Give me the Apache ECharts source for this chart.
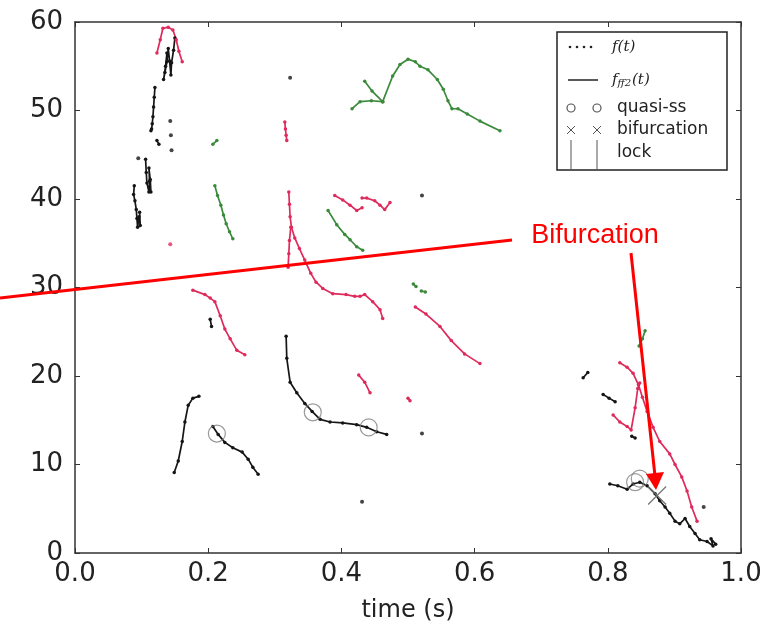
<!DOCTYPE html>
<html><head><meta charset="utf-8">
<script src="https://cdn.jsdelivr.net/npm/echarts@6/dist/echarts.min.js"></script>
<style>html,body{margin:0;padding:0;background:#fff}#c{width:780px;height:628px}</style>
</head><body><div id="c"></div>
<script>
// ---- data (time s, frequency) ----
const blackTopZigzag = [[0.150,58.2],[0.148,56.8],[0.145,55.4],[0.144,54.0],[0.142,55.6],[0.140,57.0],[0.138,55.5],[0.135,54.3],[0.133,53.5],[0.136,55.0],[0.138,56.5]];
const blackTopLine = [[0.120,52.6],[0.119,51.5],[0.118,50.4],[0.117,49.3],[0.116,48.5],[0.115,47.9],[0.114,47.7]];
const blackShortA = [[0.123,46.6],[0.126,46.2]];
const blackClusterC = [[0.106,44.5],[0.107,43.0],[0.108,41.8],[0.111,40.8],[0.112,42.0],[0.111,43.5],[0.113,42.2],[0.114,40.8]];
const blackClusterD = [[0.089,41.5],[0.088,40.5],[0.090,39.8],[0.092,38.8],[0.093,37.8],[0.094,36.8],[0.096,38.0],[0.098,37.0],[0.097,38.5]];
const blackSmallB = [[0.203,26.4],[0.205,25.6]];
const blackBig = [[0.317,24.5],[0.318,22.0],[0.323,19.3],[0.333,18.1],[0.345,16.9],[0.356,16.0],[0.368,15.1],[0.383,14.8],[0.402,14.7],[0.423,14.5],[0.438,14.2],[0.453,13.7],[0.468,13.4]];
const blackRise = [[0.149,9.1],[0.155,10.4],[0.161,12.6],[0.165,14.8],[0.170,16.7],[0.177,17.5],[0.186,17.7]];
const blackFall = [[0.207,14.3],[0.215,13.4],[0.225,12.5],[0.237,11.9],[0.251,11.4],[0.260,10.6],[0.267,9.7],[0.275,8.9]];
const blackSmallC = [[0.763,19.8],[0.770,20.4]];
const blackSmallD = [[0.793,17.9],[0.802,17.5],[0.811,17.1]];
const blackSmallE = [[0.836,13.2],[0.841,13.0]];
const blackEnd = [[0.803,7.8],[0.815,7.6],[0.829,7.2],[0.838,7.8],[0.848,8.0],[0.859,7.6],[0.871,6.7],[0.878,5.9],[0.886,5.2],[0.893,4.5],[0.901,3.6],[0.908,3.3],[0.916,3.9],[0.923,3.0],[0.931,2.2],[0.938,1.5],[0.949,1.3],[0.958,0.8],[0.955,1.6],[0.962,1.0]];
const blackDots = [[0.095,44.6],[0.143,48.8],[0.144,47.2],[0.145,45.5],[0.323,53.7],[0.521,40.4],[0.521,13.5],[0.431,5.8],[0.944,5.2]];

const redTop = [[0.123,56.5],[0.128,58.0],[0.132,59.3],[0.140,59.4],[0.147,59.1],[0.152,58.0],[0.156,56.7],[0.161,55.5]];
const redShortV = [[0.315,48.7],[0.316,47.9],[0.317,47.2],[0.318,46.6]];
const redBigMain = [[0.321,40.8],[0.322,39.4],[0.323,38.0],[0.325,36.8],[0.330,35.6],[0.337,34.4],[0.345,33.1],[0.354,31.6],[0.362,30.6],[0.372,29.9],[0.387,29.3],[0.407,29.2],[0.420,29.0],[0.428,29.0],[0.435,29.2],[0.447,28.4],[0.458,27.5],[0.462,26.5]];
const redBigBranch = [[0.320,32.3],[0.321,33.8],[0.322,35.3],[0.324,36.8]];
const redWaveA = [[0.390,40.4],[0.402,39.9],[0.413,39.3],[0.423,38.7],[0.431,39.0]];
const redWaveB = [[0.431,40.1],[0.438,40.1],[0.450,39.8],[0.458,39.3],[0.465,38.8],[0.473,39.6]];
const redLeft = [[0.177,29.7],[0.195,29.2],[0.203,28.8],[0.210,28.4],[0.218,26.8],[0.225,25.3],[0.233,24.2],[0.243,22.9],[0.255,22.4]];
const redMid = [[0.511,27.8],[0.527,27.0],[0.548,25.6],[0.565,24.0],[0.585,22.5],[0.608,21.4]];
const redSmall = [[0.426,20.1],[0.435,19.3],[0.443,18.1]];
const redTiny = [[0.500,17.5],[0.503,17.2]];
const redRightMain = [[0.818,21.5],[0.829,21.0],[0.838,20.3],[0.846,19.0],[0.852,17.6],[0.859,16.0],[0.868,14.2],[0.878,12.6],[0.893,11.2],[0.901,10.0],[0.911,8.6],[0.919,7.0],[0.926,5.2],[0.934,3.6]];
const redRightV = [[0.808,15.6],[0.818,14.8],[0.829,14.3],[0.835,13.9],[0.841,16.4],[0.845,18.6],[0.848,19.2]];
const redDots = [[0.143,34.9]];

const greenSmall = [[0.207,46.2],[0.213,46.6]];
const greenLeftLine = [[0.210,41.5],[0.214,40.4],[0.219,39.3],[0.223,38.2],[0.227,37.2],[0.232,36.3],[0.237,35.5]];
const greenSecond = [[0.380,38.7],[0.393,37.1],[0.405,36.0],[0.413,35.4],[0.423,34.6],[0.432,34.2]];
const greenVLeft = [[0.435,53.3],[0.446,52.2],[0.462,51.0]];
const greenLineA = [[0.416,50.2],[0.428,51.0],[0.445,51.1],[0.462,51.0]];
const greenHump = [[0.462,51.0],[0.477,53.9],[0.488,55.2],[0.500,55.8],[0.511,55.5],[0.518,55.0],[0.530,54.6],[0.544,53.5],[0.553,52.4],[0.560,51.1],[0.566,50.2],[0.575,50.2],[0.589,49.6],[0.608,48.8],[0.638,47.7]];
const greenDashA = [[0.508,30.4],[0.512,30.1]];
const greenDashB = [[0.520,29.6],[0.526,29.5]];
const greenRight = [[0.856,25.1],[0.852,24.2],[0.847,23.4]];

const quasiSS = [[0.213,13.5],[0.357,15.9],[0.441,14.2],[0.841,8.0],[0.848,8.4]];
const bifurcation = [[0.874,6.5]];

const xTickLabels = ['0.0','0.2','0.4','0.6','0.8','1.0'];
const yTickLabels = ['0','10','20','30','40','50','60'];

// ---- styles ----
const BLACK = '#151515', RED = '#df2a5c', GREEN = '#3b8a3b';
function seg(data, color) {
  return {type:'line', data, symbol:'circle', symbolSize:3.5, showSymbol:true,
    lineStyle:{width:1.7, color}, itemStyle:{color}, z:3, silent:true};
}
function dots(data, color) {
  return {type:'scatter', data, symbol:'circle', symbolSize:4, itemStyle:{color}, z:3, silent:true};
}
const series = [
  ...[blackTopZigzag,blackTopLine,blackShortA,blackClusterC,blackClusterD,blackSmallB,blackBig,blackRise,blackFall,blackSmallC,blackSmallD,blackSmallE,blackEnd].map(d=>seg(d,BLACK)),
  dots(blackDots, BLACK),
  ...[redTop,redShortV,redBigMain,redBigBranch,redWaveA,redWaveB,redLeft,redMid,redSmall,redTiny,redRightMain,redRightV].map(d=>seg(d,RED)),
  dots(redDots, RED),
  ...[greenSmall,greenLeftLine,greenSecond,greenVLeft,greenLineA,greenHump,greenDashA,greenDashB,greenRight].map(d=>seg(d,GREEN)),
  {type:'scatter', data:quasiSS, symbol:'circle', symbolSize:17,
    itemStyle:{color:'rgba(0,0,0,0)', borderColor:'#808080', borderWidth:1.2}, z:4, silent:true},
  {type:'custom', data:bifurcation, z:4, silent:true,
    renderItem:(params, api)=>{
      const p = api.coord([api.value(0), api.value(1)]);
      const s = 9;
      const st = {stroke:'#707070', lineWidth:1.2};
      return {type:'group', children:[
        {type:'line', shape:{x1:p[0]-s,y1:p[1]-s,x2:p[0]+s,y2:p[1]+s}, style:st},
        {type:'line', shape:{x1:p[0]-s,y1:p[1]+s,x2:p[0]+s,y2:p[1]-s}, style:st}
      ]};
    }}
];

const axisCommon = {
  axisLine:{show:true, onZero:false, lineStyle:{color:'#333', width:1.5}},
  axisTick:{show:true, inside:true, length:5, lineStyle:{color:'#333', width:1}},
  splitLine:{show:false}
};
const lblFont = {fontFamily:'DejaVu Sans', fontSize:26, color:'#222'};

const chart = echarts.init(document.getElementById('c'), null, {renderer:'canvas'});
chart.setOption({
  animation:false,
  backgroundColor:'#fff',
  grid:{left:75, top:22, right:39, bottom:68, containLabel:false},
  xAxis:[
    {type:'value', min:0, max:1, interval:0.2, position:'bottom', ...axisCommon,
      axisLabel:{...lblFont, margin:8, formatter:(v)=>xTickLabels[Math.round(v/0.2)]},
      name:'time (s)', nameLocation:'middle', nameGap:46,
      nameTextStyle:{fontFamily:'DejaVu Sans', fontSize:24, color:'#222'}},
    {type:'value', min:0, max:1, interval:0.2, position:'top', ...axisCommon, axisLabel:{show:false}}
  ],
  yAxis:[
    {type:'value', min:0, max:60, interval:10, position:'left', ...axisCommon,
      axisLabel:{...lblFont, margin:12, formatter:(v)=>yTickLabels[Math.round(v/10)]}},
    {type:'value', min:0, max:60, interval:10, position:'right', ...axisCommon, axisLabel:{show:false}}
  ],
  series,
  graphic:[
    // legend box
    {type:'rect', shape:{x:557,y:32,width:170,height:138}, style:{fill:'#fff', stroke:'#222', lineWidth:1.5}, z:10},
    ...[570,577,584,591].map(x=>({type:'circle', shape:{cx:x,cy:47,r:1.3}, style:{fill:'#222'}, z:11})),
    {type:'line', shape:{x1:568,y1:80,x2:598,y2:80}, style:{stroke:'#222', lineWidth:1.5}, z:11},
    {type:'circle', shape:{cx:571,cy:108,r:4}, style:{fill:'none', stroke:'#555', lineWidth:1.2}, z:11},
    {type:'circle', shape:{cx:597,cy:108,r:4}, style:{fill:'none', stroke:'#555', lineWidth:1.2}, z:11},
    ...[571,597].map(x=>({type:'group', z:11, children:[
      {type:'line', shape:{x1:x-4,y1:126,x2:x+4,y2:134}, style:{stroke:'#555', lineWidth:1}, z:11},
      {type:'line', shape:{x1:x-4,y1:134,x2:x+4,y2:126}, style:{stroke:'#555', lineWidth:1}, z:11}
    ]})),
    {type:'line', shape:{x1:571,y1:140,x2:571,y2:170}, style:{stroke:'#555', lineWidth:1}, z:11},
    {type:'line', shape:{x1:597,y1:140,x2:597,y2:170}, style:{stroke:'#555', lineWidth:1}, z:11},
    {type:'text', x:612, y:47, z:11, style:{text:'f(t)', fontFamily:'DejaVu Serif', fontStyle:'italic', fontSize:15, fill:'#222', verticalAlign:'middle'}},
    {type:'text', x:612, y:80, z:11, style:{text:'{a|f}{b|ff2}{a|(t)}', verticalAlign:'middle',
      rich:{a:{fontFamily:'DejaVu Serif', fontStyle:'italic', fontSize:15, fill:'#222'},
            b:{fontFamily:'DejaVu Serif', fontStyle:'italic', fontSize:10, fill:'#222', verticalAlign:'bottom', padding:[6,1,0,0]}}}},
    {type:'text', x:617, y:108, z:11, style:{text:'quasi-ss', fontFamily:'DejaVu Sans', fontSize:17, fill:'#222', verticalAlign:'middle'}},
    {type:'text', x:617, y:130, z:11, style:{text:'bifurcation', fontFamily:'DejaVu Sans', fontSize:17, fill:'#222', verticalAlign:'middle'}},
    {type:'text', x:617, y:153, z:11, style:{text:'lock', fontFamily:'DejaVu Sans', fontSize:17, fill:'#222', verticalAlign:'middle'}},
    // annotation
    {type:'line', shape:{x1:0,y1:298,x2:512,y2:240}, style:{stroke:'#ff0000', lineWidth:3}, z:20},
    {type:'text', x:595, y:236, z:20, style:{text:'Bifurcation', fontFamily:'Liberation Sans', fontSize:27, fill:'#ff0000', align:'center', verticalAlign:'middle'}},
    {type:'line', shape:{x1:631,y1:253,x2:655,y2:476}, style:{stroke:'#ff0000', lineWidth:3}, z:20},
    {type:'polygon', shape:{points:[[646,474],[664,472],[656,490]]}, style:{fill:'#ff0000'}, z:20}
  ]
});
</script>
</body></html>
